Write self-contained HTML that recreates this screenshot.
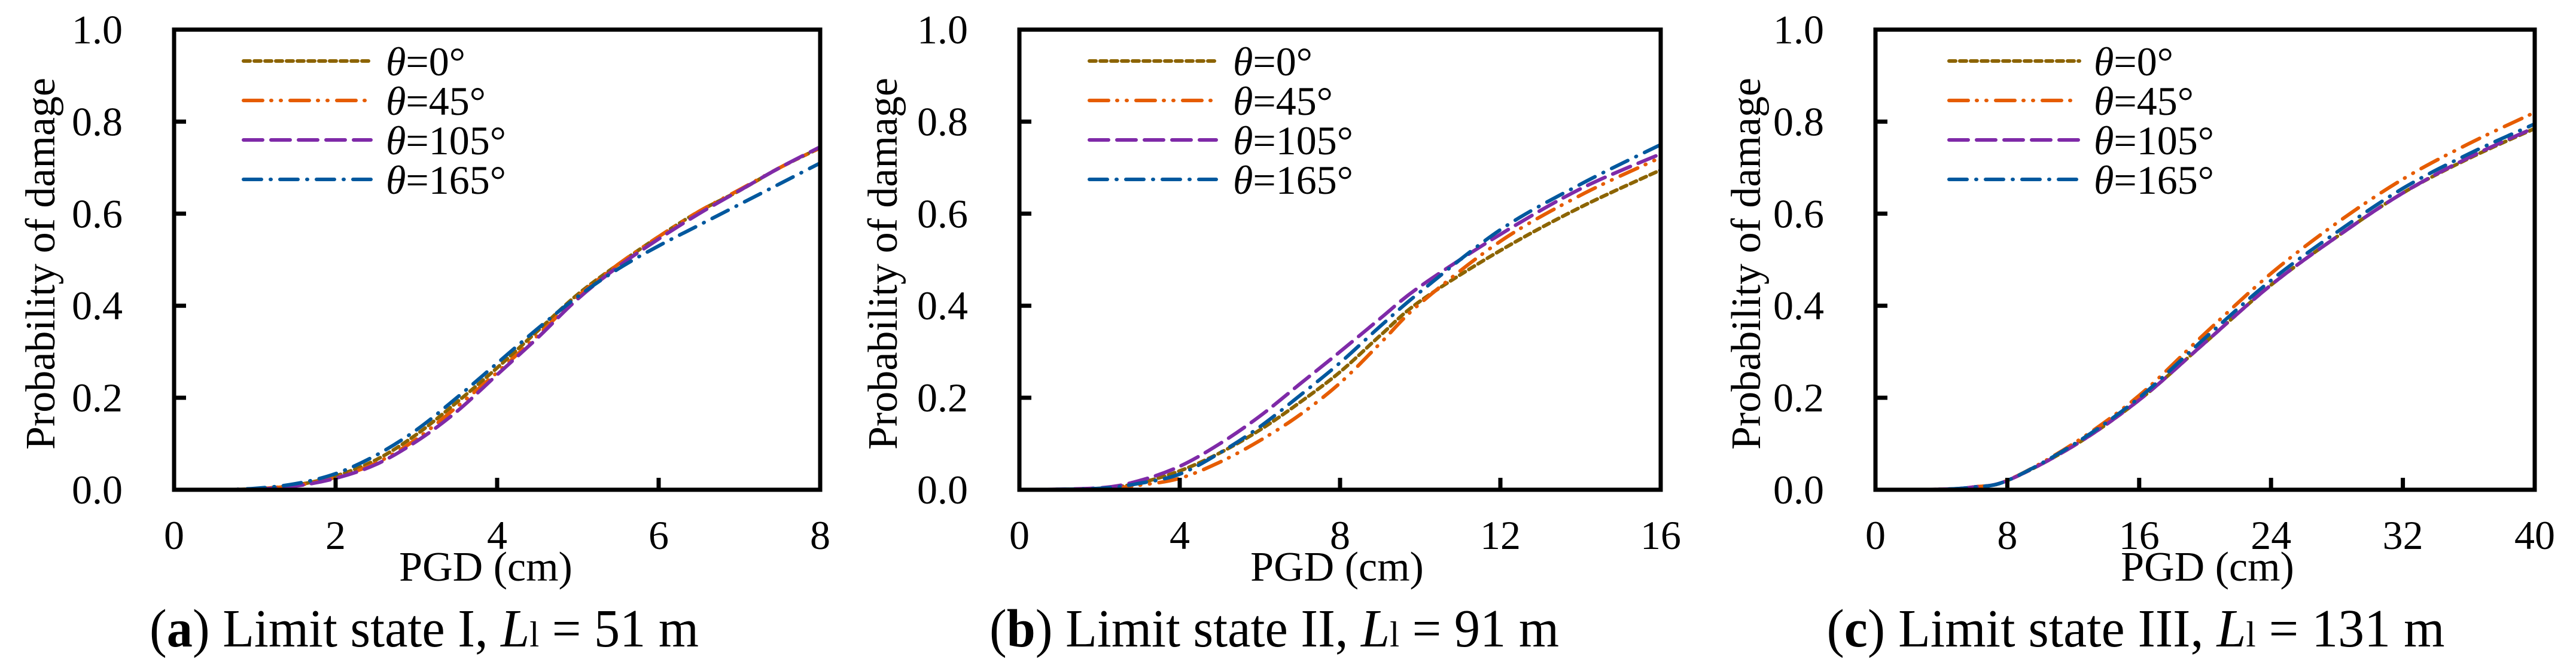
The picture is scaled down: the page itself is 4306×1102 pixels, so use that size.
<!DOCTYPE html>
<html><head><meta charset="utf-8">
<style>
html,body{margin:0;padding:0;background:#fff;}
svg{display:block;}
text{font-family:"Liberation Serif","Times New Roman",serif;}
</style></head>
<body>
<svg id="fig" width="4306" height="1102" viewBox="0 0 4306 1102" xmlns="http://www.w3.org/2000/svg" font-family="Liberation Serif, serif"></svg>
<script>
// ---- data ----
const legendLabels = ["0°","45°","105°","165°"];
const yTicks = [0,0.2,0.4,0.6,0.8,1.0];
const yTickLabels = ["0.0","0.2","0.4","0.6","0.8","1.0"];

const aTicks = [0,2,4,6,8];
const aX = [0,0.5,1,1.5,2,2.5,3,3.5,4,4.5,5,5.5,6,6.5,7,7.5,8];
const aTheta0   = [0,0,0.002,0.01,0.03,0.065,0.12,0.19,0.265,0.345,0.425,0.49,0.55,0.605,0.65,0.70,0.743];
const aTheta45  = [0,0,0.002,0.009,0.027,0.058,0.11,0.18,0.255,0.335,0.42,0.49,0.55,0.605,0.652,0.70,0.743];
const aTheta105 = [0,0,0.001,0.008,0.025,0.055,0.105,0.17,0.25,0.33,0.415,0.485,0.545,0.60,0.65,0.70,0.745];
const aTheta165 = [0,0,0.003,0.013,0.035,0.075,0.13,0.20,0.275,0.35,0.42,0.48,0.53,0.575,0.62,0.665,0.71];

const bTicks = [0,4,8,12,16];
const bX = [0,2,3,4,5,6,7,8,9,10,12,14,16];
const bTheta0   = [0,0.003,0.015,0.041,0.08,0.13,0.19,0.256,0.335,0.41,0.52,0.614,0.695];
const bTheta45  = [0,0.002,0.01,0.025,0.06,0.107,0.163,0.232,0.318,0.405,0.54,0.64,0.722];
const bTheta105 = [0,0.004,0.02,0.051,0.10,0.16,0.23,0.30,0.372,0.442,0.555,0.654,0.73];
const bTheta165 = [0,0.003,0.014,0.034,0.08,0.137,0.205,0.276,0.355,0.43,0.565,0.664,0.75];

const cTicks = [0,8,16,24,32,40];
const cX = [0,4,6,8,12,16,20,24,28,32,36,40];
const cTheta0   = [0,0.001,0.006,0.02,0.095,0.195,0.32,0.445,0.55,0.645,0.72,0.785];
const cTheta45  = [0,0.001,0.006,0.02,0.1,0.205,0.34,0.47,0.58,0.675,0.752,0.82];
const cTheta105 = [0,0.001,0.006,0.02,0.095,0.195,0.32,0.445,0.55,0.645,0.722,0.787];
const cTheta165 = [0,0.001,0.006,0.02,0.098,0.2,0.33,0.455,0.56,0.655,0.73,0.795];

// ---- styles / layout ----
const NS = "http://www.w3.org/2000/svg";
const FONT = "Liberation Serif, Times New Roman, serif";
const svg = document.getElementById("fig");
const seriesStyle = [
  {color:"#8c6400", dash:"11 7"},
  {color:"#e65c00", dash:"32 14 1 15 1 15"},
  {color:"#7f2aa8", dash:"32 14"},
  {color:"#00589e", dash:"30 15 1 15"}
];
const panels = [
  {id:"a", left:291, right:1371, xmax:8, ticks:aTicks, x:aX, series:[aTheta0,aTheta45,aTheta105,aTheta165],
   yTitleX:67, legLine:[407,620], legText:645, xTitleX:812, capX:709, capW:918, cap:["a"," Limit state I, ","= 51 m"]},
  {id:"b", left:1704, right:2776, xmax:16, ticks:bTicks, x:bX, series:[bTheta0,bTheta45,bTheta105,bTheta165],
   yTitleX:1475, legLine:[1821,2033], legText:2061, xTitleX:2235, capX:2130, capW:952, cap:["b"," Limit state II, ","= 91 m"]},
  {id:"c", left:3135, right:4237, xmax:40, ticks:cTicks, x:cX, series:[cTheta0,cTheta45,cTheta105,cTheta165],
   yTitleX:2918, legLine:[3258,3476], legText:3500, xTitleX:3690, capX:3570, capW:1033, cap:["c"," Limit state III, ","= 131 m"]}
];
const TOP = 49.5, BOT = 819;

function el(tag, attrs, parent){
  const e = document.createElementNS(NS, tag);
  for (const k in attrs) e.setAttribute(k, attrs[k]);
  if (tag === "text") e.setAttribute("font-family", FONT);
  (parent||svg).appendChild(e);
  return e;
}
function smoothPath(pts){
  let d = "M"+pts[0][0].toFixed(1)+","+pts[0][1].toFixed(1);
  for (let i=0;i<pts.length-1;i++){
    const p0=pts[Math.max(i-1,0)], p1=pts[i], p2=pts[i+1], p3=pts[Math.min(i+2,pts.length-1)];
    const c1x=p1[0]+(p2[0]-p0[0])/6, c1y=p1[1]+(p2[1]-p0[1])/6;
    const c2x=p2[0]-(p3[0]-p1[0])/6, c2y=p2[1]-(p3[1]-p1[1])/6;
    d += " C"+c1x.toFixed(1)+","+c1y.toFixed(1)+" "+c2x.toFixed(1)+","+c2y.toFixed(1)+" "+p2[0].toFixed(1)+","+p2[1].toFixed(1);
  }
  return d;
}

panels.forEach(P=>{
  const g = el("g",{});
  
  
  const sx = v => P.left + (P.right-P.left)*v/P.xmax;
  const sy = v => BOT - (BOT-TOP)*v;

  P.series.forEach((vals,si)=>{
    const pts = P.x.map((xv,i)=>[sx(xv), sy(vals[i])]);
    const path = el("path",{d:smoothPath(pts), fill:"none", stroke:seriesStyle[si].color,
      "stroke-width":6, "stroke-dasharray":seriesStyle[si].dash, "stroke-linecap":"round"}, g);
    
    
  });

  const frame = el("rect",{x:P.left,y:TOP,width:P.right-P.left,height:BOT-TOP,fill:"none",stroke:"#000","stroke-width":7}, g);
  
  

  yTicks.forEach((t,i)=>{
    const y = sy(t);
    if (t>0 && t<1){
      const tk = el("line",{x1:P.left,x2:P.left+20,y1:y,y2:y,stroke:"#000","stroke-width":7}, g);
      
      
    }
    const lb = el("text",{x:P.left-86,y:y+23,"font-size":68,"text-anchor":"end"}, g);
    lb.textContent = yTickLabels[i];
    
    
  });
  P.ticks.forEach(t=>{
    const x = sx(t);
    if (t>0 && t<P.xmax){
      const tk = el("line",{x1:x,x2:x,y1:BOT,y2:BOT-20,stroke:"#000","stroke-width":7}, g);
      
      
    }
    const lb = el("text",{x:x,y:918,"font-size":68,"text-anchor":"middle"}, g);
    lb.textContent = String(t);
    
    
  });

  const yt = el("text",{x:0,y:0,"font-size":70,"text-anchor":"middle",
    transform:"translate("+(P.yTitleX+24)+","+441+") rotate(-90)"}, g);
  yt.textContent = "Probability of damage";
  
  
  const xt = el("text",{x:P.xTitleX,y:971,"font-size":70,"text-anchor":"middle"}, g);
  xt.textContent = "PGD (cm)";
  
  

  const rows = [102,168,234,300];
  legendLabels.forEach((lab,i)=>{
    const ln = el("line",{x1:P.legLine[0],x2:P.legLine[1],y1:rows[i],y2:rows[i],stroke:seriesStyle[i].color,
      "stroke-width":6,"stroke-dasharray":seriesStyle[i].dash,"stroke-linecap":"round"}, g);
    
    
    const tx = el("text",{x:P.legText,y:rows[i]+24,"font-size":68}, g);
    const th = el("tspan",{"font-style":"italic"}, tx);
    th.textContent = "θ";
    const rest = el("tspan",{}, tx);
    rest.textContent = "="+lab;
    
    
  });

  const cap = el("text",{x:P.capX,y:1081,"font-size":90,"text-anchor":"middle",
    textLength:P.capW,lengthAdjust:"spacingAndGlyphs"}, g);
  const t1 = el("tspan",{}, cap); t1.textContent="(";
  const t2 = el("tspan",{"font-weight":"bold"}, cap); t2.textContent=P.cap[0];
  const t3 = el("tspan",{}, cap); t3.textContent=")"+P.cap[1];
  const t4 = el("tspan",{"font-style":"italic"}, cap); t4.textContent="L";
  const t5 = el("tspan",{"font-size":60}, cap); t5.textContent="l";
  const t6 = el("tspan",{}, cap); t6.textContent=" "+P.cap[2];
  
  
});
</script>
</body></html>
